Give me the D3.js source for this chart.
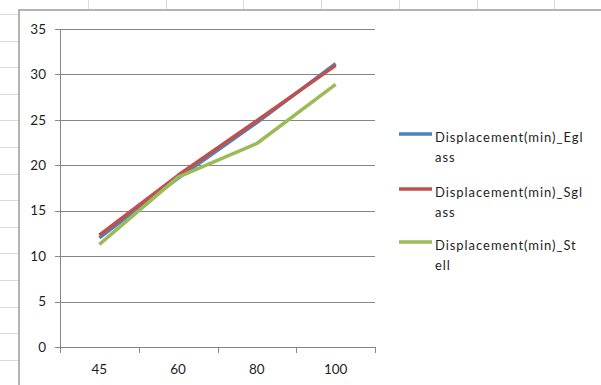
<!DOCTYPE html>
<html>
<head>
<meta charset="utf-8">
<script src="https://cdn.jsdelivr.net/npm/d3@7"></script>
<style>
  html, body { margin: 0; padding: 0; background: #fff; }
  svg { display: block; }
</style>
</head>
<body>
<svg id="chart" width="601" height="385"></svg>
<script>
// Categories (x axis) and series values
const categories = ["45", "60", "80", "100"];
const eglass = [12.0, 18.6, 24.7, 31.2];
const sglass = [12.3, 18.9, 24.9, 31.0];
const stell  = [11.3, 18.7, 22.4, 28.9];
const yTicks = [0, 5, 10, 15, 20, 25, 30, 35];

const seriesNames = ["Displacement(min)_Eglass", "Displacement(min)_Sglass", "Displacement(min)_Stell"];
const legendLines = [["Displacement(min)_Egl", "ass"], ["Displacement(min)_Sgl", "ass"], ["Displacement(min)_St", "ell"]];
const seriesColors = ["#4F81BD", "#C0504D", "#9BBB59"];
const seriesValues = [eglass, sglass, stell];

const svg = d3.select("#chart");
const font = "Lato, 'Liberation Sans', sans-serif";

// Worksheet cell grid around the embedded chart
const sheet = svg.append("g").attr("stroke", "#dadada").attr("stroke-width", 1);
d3.range(14, 385, 26.6).forEach(y => {
  sheet.append("line").attr("x1", 0).attr("x2", 18).attr("y1", Math.round(y) + 0.5).attr("y2", Math.round(y) + 0.5);
});
d3.range(88, 601, 77.7).forEach(x => {
  sheet.append("line").attr("x1", Math.round(x) + 0.5).attr("x2", Math.round(x) + 0.5).attr("y1", 0).attr("y2", 9);
});

// Chart area frame
svg.append("rect").attr("x", 19).attr("y", 10).attr("width", 620).attr("height", 400)
  .attr("fill", "#fff").attr("stroke", "#9a9a9a").attr("stroke-width", 1.5);

// Scales
const x = d3.scaleBand().domain(categories).range([60, 375]).paddingInner(0).paddingOuter(0);
const y = d3.scaleLinear().domain([0, 35]).range([347, 29]);

// Horizontal gridlines with short ticks on the left
const grid = svg.append("g").attr("stroke", "#868686").attr("stroke-width", 1);
yTicks.forEach(t => {
  grid.append("line").attr("x1", 55).attr("x2", 375)
    .attr("y1", Math.round(y(t)) + 0.5).attr("y2", Math.round(y(t)) + 0.5);
});
// Value axis line
grid.append("line").attr("x1", 60.5).attr("x2", 60.5).attr("y1", y(35)).attr("y2", y(0) + 1);
// Category tick marks at band edges
const edges = categories.map(c => x(c)).concat([x.range()[1]]);
edges.forEach(e => {
  grid.append("line").attr("x1", Math.round(e) + 0.5).attr("x2", Math.round(e) + 0.5)
    .attr("y1", y(0)).attr("y2", y(0) + 6);
});

// Y tick labels
svg.append("g").selectAll("text").data(yTicks).join("text")
  .attr("x", 46).attr("y", d => y(d)).attr("dy", "0.35em")
  .attr("text-anchor", "end").attr("font-family", font).attr("font-size", 13.5)
  .attr("fill", "#1e1e1e").text(d => d);

// X tick labels
svg.append("g").selectAll("text").data(categories).join("text")
  .attr("x", d => x(d) + x.bandwidth() / 2).attr("y", 369).attr("dy", "0.35em")
  .attr("text-anchor", "middle").attr("font-family", font).attr("font-size", 13.5)
  .attr("fill", "#1e1e1e").text(d => d);

// Series lines
const line = d3.line()
  .x((d, i) => x(categories[i]) + x.bandwidth() / 2)
  .y(d => y(d));
seriesValues.forEach((vals, i) => {
  svg.append("path").datum(vals)
    .attr("d", line).attr("fill", "none")
    .attr("stroke", seriesColors[i]).attr("stroke-width", 3.5)
    .attr("stroke-linejoin", "round").attr("stroke-linecap", "butt");
});

// Legend (labels wrap onto a second line)
const legendY = [134, 189, 242];
seriesNames.forEach((name, i) => {
  const g = svg.append("g").attr("transform", `translate(399,${legendY[i]})`);
  g.append("line").attr("x1", 0).attr("x2", 33).attr("y1", 0).attr("y2", 0)
    .attr("stroke", seriesColors[i]).attr("stroke-width", 3.5);
  const t = g.append("text").attr("x", 36).attr("y", 3)
    .attr("font-family", font).attr("font-size", 13).attr("letter-spacing", 0.95)
    .attr("fill", "#1e1e1e");
  legendLines[i].forEach((ln, k) => {
    t.append("tspan").attr("x", 36).attr("dy", k === 0 ? "0.35em" : 20).text(ln);
  });
});
</script>
</body>
</html>
